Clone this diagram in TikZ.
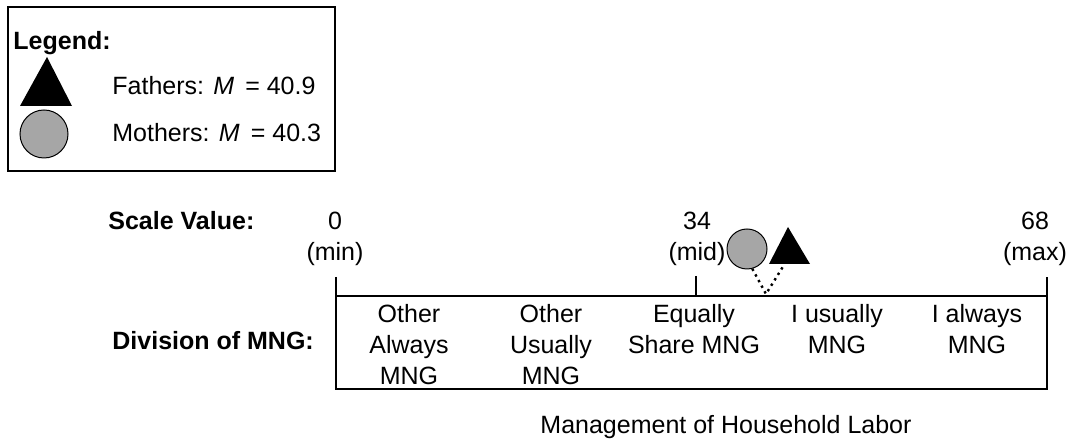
\documentclass[tikz,border=0pt]{standalone}
\usepackage{fontspec}
\setmainfont{Liberation Sans}
\begin{document}
\begin{tikzpicture}[x=0.5pt,y=-0.5pt,
  txt/.style={inner sep=0pt,font=\fontsize{12.5}{15.5}\selectfont},
  lbl/.style={txt,font=\fontsize{12.5}{15.5}\selectfont\bfseries},
  col/.style={txt,align=center,anchor=north},
  axis/.style={line width=0.75pt},
  dotline/.style={line width=1.2pt,dotted},
  mfill/.style={fill=black!35,draw=black,line width=0.5pt}]
\useasboundingbox (0,0) rectangle (1070,442);
% legend
\draw[line width=1pt] (8,7) rectangle (335,171);
\node[lbl,anchor=base west] (leg) at (13,50) {Legend:};
\fill[black] (47,57) -- (72,106) -- (20,106) -- cycle;
\node[mfill,circle,minimum size=24pt,inner sep=0pt] (lcirc) at (44,134) {};
\node[txt,anchor=base west] (lf) at (112,95) {Fathers: {\itshape M} \,= 40.9};
\node[txt,anchor=base west] (lm) at (112,142) {Mothers: {\itshape M} \,= 40.3};
% labels
\node[lbl,anchor=base west] (sv) at (108,230) {Scale Value:};
\node[lbl,anchor=base west] (dv) at (112,350) {Division of MNG:};
% scale values
\node[col] (s0) at (335,212) {0\\(min)};
\node[col] (s34) at (697,212) {34\\(mid)};
\node[col] (s68) at (1035,212) {68\\(max)};
% axis
\draw[axis] (336,277) -- (336,389) -- (1047,389) -- (1047,277);
\draw[axis] (336,296) -- (1047,296);
\draw[axis] (696,276) -- (696,296);
% columns
\node[col] (c1) at (409,304) {Other\\Always\\MNG};
\node[col] (c2) at (551,304) {Other\\Usually\\MNG};
\node[col] (c3) at (694,304) {Equally\\Share MNG};
\node[col] (c4) at (837,304) {I usually\\MNG};
\node[col] (c5) at (977,304) {I always\\MNG};
% title
\node[txt,anchor=base] (ttl) at (726,434) {Management of Household Labor};
% markers
\coordinate (tA) at (788,227);
\coordinate (tL) at (769,264);
\coordinate (tR) at (810,264);
\fill[black] (tA) -- (tR) -- (tL) -- cycle;
\coordinate (tB) at (784,265);
\node[mfill,circle,minimum size=20pt,inner sep=0pt] (mc) at (747,249) {};
\coordinate (vx) at (766,294);
\draw[dotline] (mc.-75) -- (vx) -- (tB);
\end{tikzpicture}
\end{document}
